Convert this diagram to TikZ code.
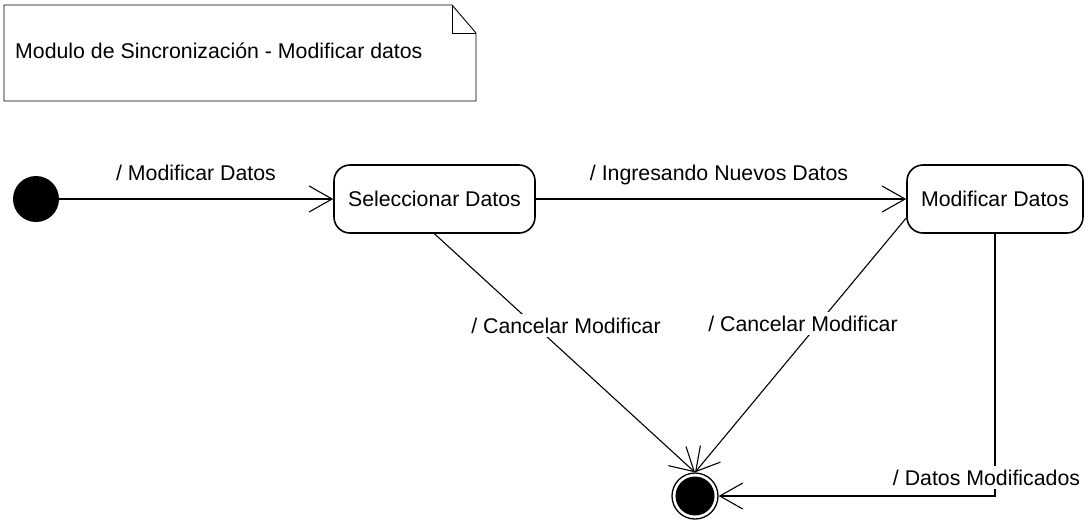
\documentclass[tikz,border=0pt]{standalone}
\usepackage{fontspec}
\setmainfont{Liberation Sans}
\usetikzlibrary{arrows.meta}
\begin{document}
\begin{tikzpicture}[x=1pt,y=-1pt,
  every node/.style={font=\fontsize{21.3pt}{25pt}\selectfont},
  statebox/.style={draw, line width=1.6pt, rounded corners=16pt, minimum height=68pt, inner sep=0pt},
  trans/.style={line width=1.1pt, -{Straight Barb[length=23pt,width=26pt,line width=1.1pt]}},
  lbl/.style={fill=white, inner sep=4pt, anchor=base}
]
\useasboundingbox (0,0) rectangle (1089,523);

% comment note with folded corner
\draw[line width=0.9pt] (4,5) -- (452,5) -- (476,33) -- (476,101) -- (4,101) -- cycle;
\draw[line width=0.9pt] (452,5) -- (452,33) -- (476,33);
\node[anchor=base west, inner sep=0pt] (note) at (15,58) {Modulo de Sincronización - Modificar datos};

% states
\node[circle, fill=black, minimum size=46pt, inner sep=0pt] (init) at (36,199) {};
\node[statebox, minimum width=201pt] (sel) at (434.5,199) {Seleccionar Datos};
\node[statebox, minimum width=176pt] (mod) at (995,199) {Modificar Datos};
\node[circle, draw, line width=1.3pt, minimum size=46pt, inner sep=0pt,
  path picture={\fill (path picture bounding box.center) circle (19.5pt);}] (final) at (695,496) {};

% transitions
\draw[trans] (init.east) -- (sel.west);
\draw[trans] (sel.east) -- (mod.west);
\draw[trans] (sel.south) -- (final.north);
\draw[trans] ([yshift=-19pt]mod.west) -- (final.north);
\draw[trans] (mod.south) |- (final.east);

% transition labels
\node[lbl] (l1) at (196,180.5) {/ Modificar Datos};
\node[lbl] (l2) at (719,180.5) {/ Ingresando Nuevos Datos};
\node[lbl] (l3) at (566,333) {/ Cancelar Modificar};
\node[lbl] (l4) at (803,331) {/ Cancelar Modificar};
\node[lbl] (l5) at (986.5,485) {/ Datos Modificados};
\end{tikzpicture}
\end{document}
